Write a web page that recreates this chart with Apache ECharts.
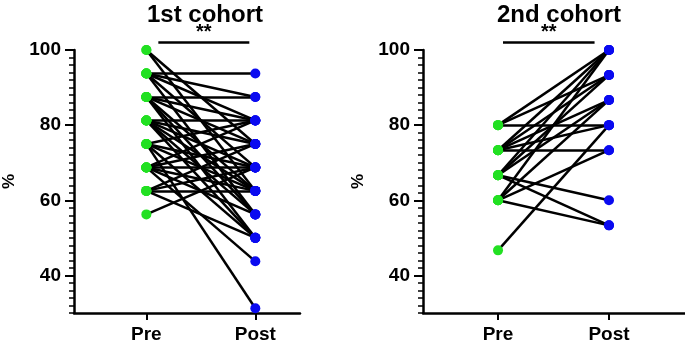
<!DOCTYPE html>
<html>
<head>
<meta charset="utf-8">
<script src="https://cdn.jsdelivr.net/npm/echarts@6/dist/echarts.min.js"></script>
<style>
  html, body { margin: 0; padding: 0; background: #fff; }
  #chart { width: 685px; height: 346px; }
</style>
</head>
<body>
<div id="chart"></div>
<script>
// paired scores, one entry per participant
const cohort1Pre = [100, 100, 93.75, 93.75, 93.75, 93.75, 93.75, 87.5, 87.5, 87.5, 87.5, 87.5, 87.5,
  81.25, 81.25, 81.25, 81.25, 81.25, 81.25, 75, 75, 75, 75, 75, 68.75, 68.75, 68.75, 68.75, 68.75, 68.75,
  62.5, 62.5, 62.5, 62.5, 56.25];
const cohort1Post = [75, 62.5, 93.75, 87.5, 81.25, 68.75, 56.25, 87.5, 81.25, 75, 62.5, 50, 56.25,
  81.25, 68.75, 75, 62.5, 56.25, 50, 81.25, 68.75, 62.5, 50, 31.25, 68.75, 75, 62.5, 56.25, 43.75, 81.25,
  62.5, 68.75, 50, 75, 68.75];

const cohort2Pre = [80, 80, 80, 73.33, 73.33, 73.33, 73.33, 73.33, 66.67, 66.67, 66.67, 66.67, 66.67,
  60, 60, 60, 60, 46.67];
const cohort2Post = [100, 80, 93.33, 100, 93.33, 73.33, 86.67, 80, 100, 93.33, 86.67, 60, 53.33,
  100, 86.67, 73.33, 53.33, 80];

const groups = ['Pre', 'Post'];
const titles = ['1st cohort', '2nd cohort'];
const yLabels = [40, 60, 80, 100];
const sigText = '**';

const chart = echarts.init(document.getElementById('chart'));

const font = '"Liberation Sans", Arial, sans-serif';

function pairLines(pre, post) {
  return pre.map((v, i) => ({ coords: [[1, v], [2, post[i]]] }));
}

function xAxisFor(idx, min, max) {
  return {
    type: 'value',
    gridIndex: idx,
    min: min,
    max: max,
    splitLine: { show: false },
    axisLine: { show: true, onZero: false, lineStyle: { color: '#000', width: 2.5 } },
    axisTick: { show: true, customValues: [1, 2], length: 7, lineStyle: { color: '#000', width: 2 } },
    axisLabel: {
      customValues: [1, 2],
      formatter: v => groups[Math.round(v) - 1],
      color: '#000',
      fontSize: 19,
      fontWeight: 'bold',
      fontFamily: font,
      margin: 12
    }
  };
}

function yAxisMajor(idx) {
  return {
    type: 'value',
    gridIndex: idx,
    min: 30,
    max: 100,
    position: 'left',
    name: '%',
    nameLocation: 'middle',
    nameGap: 56,
    nameTextStyle: { color: '#000', fontSize: 17, fontWeight: 'bold', fontFamily: font },
    splitLine: { show: false },
    axisLine: { show: true, lineStyle: { color: '#000', width: 2.5 } },
    axisTick: { show: true, customValues: yLabels, length: 9, lineStyle: { color: '#000', width: 2 } },
    axisLabel: {
      customValues: yLabels,
      color: '#000',
      fontSize: 19,
      fontWeight: 'bold',
      fontFamily: font,
      margin: 13
    }
  };
}

function yAxisMinor(idx) {
  return {
    type: 'value',
    gridIndex: idx,
    min: 30,
    max: 100,
    interval: 2,
    position: 'left',
    splitLine: { show: false },
    axisLine: { show: false },
    axisTick: { show: true, length: 5, lineStyle: { color: '#000', width: 1.5 } },
    axisLabel: { show: false }
  };
}

function panelSeries(idx, pre, post, sigFrom, sigTo) {
  return [
    {
      type: 'lines',
      coordinateSystem: 'cartesian2d',
      xAxisIndex: idx,
      yAxisIndex: idx * 2,
      lineStyle: { color: '#000', width: 2.5, opacity: 1 },
      z: 2,
      data: pairLines(pre, post)
    },
    {
      type: 'scatter',
      xAxisIndex: idx,
      yAxisIndex: idx * 2,
      symbolSize: 10,
      itemStyle: { color: '#22e022', opacity: 1 },
      z: 3,
      data: pre.map(v => [1, v])
    },
    {
      type: 'scatter',
      xAxisIndex: idx,
      yAxisIndex: idx * 2,
      symbolSize: 10,
      itemStyle: { color: '#0a0af0', opacity: 1 },
      z: 3,
      data: post.map(v => [2, v])
    },
    {
      // significance bar
      type: 'lines',
      coordinateSystem: 'cartesian2d',
      xAxisIndex: idx,
      yAxisIndex: idx * 2,
      clip: false,
      lineStyle: { color: '#000', width: 2.5, opacity: 1 },
      label: {
        show: true,
        position: 'middle',
        formatter: sigText,
        color: '#000',
        fontSize: 20,
        fontWeight: 'bold',
        fontFamily: font,
        distance: 0
      },
      data: [{ coords: [[sigFrom, 102.1], [sigTo, 102.1]] }]
    }
  ];
}

const option = {
  animation: false,
  title: [
    {
      text: titles[0], left: 200, top: -2, textAlign: 'center',
      textStyle: { color: '#000', fontSize: 24, fontWeight: 'bold', fontFamily: font }
    },
    {
      text: titles[1], left: 554, top: -2, textAlign: 'center',
      textStyle: { color: '#000', fontSize: 24, fontWeight: 'bold', fontFamily: font }
    }
  ],
  grid: [
    { left: 72, top: 50, width: 228, height: 263 },
    { left: 423, top: 50, width: 262, height: 263 }
  ],
  xAxis: [
    xAxisFor(0, 0.336, 2.41),
    xAxisFor(1, 0.324, 2.685)
  ],
  yAxis: [
    yAxisMajor(0), yAxisMinor(0),
    yAxisMajor(1), yAxisMinor(1)
  ],
  series: [
    ...panelSeries(0, cohort1Pre, cohort1Post, 1.11, 1.945),
    ...panelSeries(1, cohort2Pre, cohort2Post, 1.045, 1.87)
  ]
};

chart.setOption(option);
</script>
</body>
</html>
